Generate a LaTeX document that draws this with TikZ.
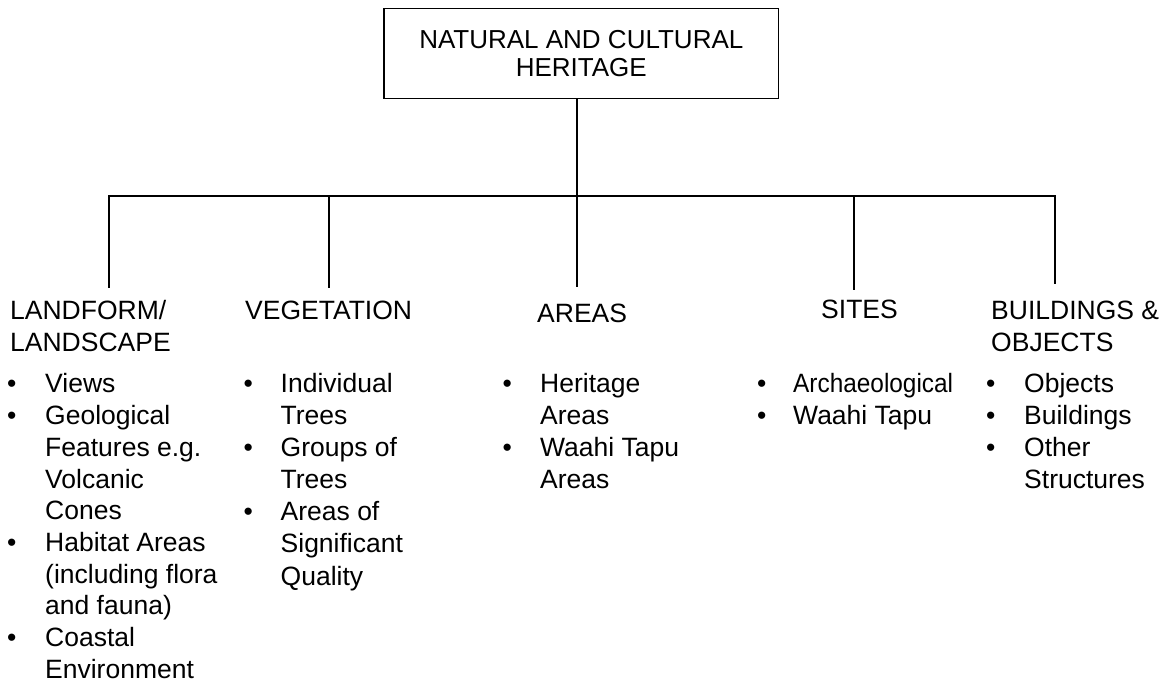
\documentclass[tikz,border=0pt]{standalone}
\usepackage{fontspec}
\setmainfont{Liberation Sans}
\usepackage{graphicx}
\begin{document}
\begin{tikzpicture}[x=1pt,y=-1pt,
  conn/.style={line width=1.6pt},
  head/.style={anchor=base west, inner sep=0pt, font=\fontsize{26.5}{32}\selectfont},
  lst/.style={anchor=base west, inner sep=0pt, font=\fontsize{26.5}{32}\selectfont},
  titlebox/.style={draw, line width=1.6pt, minimum width=394.5pt, minimum height=90pt,
    inner sep=0pt, align=center, font=\fontsize{26}{28.5}\selectfont}]
\useasboundingbox (0,0) rectangle (1170,684);

% title
\node[titlebox] (title) at (581.3,53.5) {NATURAL AND CULTURAL\\HERITAGE};

% headings
\node[head] (land) at (10,320) {\begin{tabular}[t]{@{}l@{}}LANDFORM/\\LANDSCAPE\end{tabular}};
\node[head] (veg) at (245,320) {VEGETATION};
\node[head] (areas) at (537,323) {AREAS};
\node[head] (sites) at (821,319) {SITES};
\node[head] (bldg) at (991,320) {\begin{tabular}[t]{@{}l@{}}BUILDINGS \&\\OBJECTS\end{tabular}};

% lists
\node[lst, font=\fontsize{26.5}{31.7}\selectfont] (landl) at (7,393) {\begin{tabular}[t]{@{}p{38pt}@{}l@{}}
\textbullet & Views\\
\textbullet & Geological\\
 & Features e.g.\\
 & Volcanic\\
 & Cones\\
\textbullet & Habitat Areas\\
 & (including flora\\
 & and fauna)\\
\textbullet & Coastal\\
 & Environment
\end{tabular}};
\node[lst] (vegl) at (243.5,393) {\begin{tabular}[t]{@{}p{37pt}@{}l@{}}
\textbullet & Individual\\
 & Trees\\
\textbullet & Groups of\\
 & Trees\\
\textbullet & Areas of\\
 & Significant\\
 & Quality
\end{tabular}};
\node[lst] (areasl) at (502.5,393) {\begin{tabular}[t]{@{}p{37.5pt}@{}l@{}}
\textbullet & Heritage\\
 & Areas\\
\textbullet & Waahi Tapu\\
 & Areas
\end{tabular}};
\node[lst] (sitesl) at (757,393) {\begin{tabular}[t]{@{}p{36pt}@{}l@{}}
\textbullet & \scalebox{0.92}[1]{Archaeological}\\
\textbullet & Waahi Tapu
\end{tabular}};
\node[lst] (bldgl) at (986,393) {\begin{tabular}[t]{@{}p{38pt}@{}l@{}}
\textbullet & Objects\\
\textbullet & Buildings\\
\textbullet & Other\\
 & Structures
\end{tabular}};

% connectors
\coordinate (hub) at (577,196);
\coordinate (j1) at (109,196);
\coordinate (j2) at (329,196);
\coordinate (j4) at (854,196);
\coordinate (j5) at (1055,196);
\coordinate (e1) at (109,288);
\coordinate (e2) at (329,288);
\coordinate (e3) at (577,287);
\coordinate (e4) at (854,290);
\coordinate (e5) at (1055,284);

\draw[conn] ([xshift=-4.3pt]title.south) -- (hub);
\draw[conn] (e1) -- (j1) -- (j5) -- (e5);
\draw[conn] (j2) -- (e2);
\draw[conn] (hub) -- (e3);
\draw[conn] (j4) -- (e4);
\end{tikzpicture}
\end{document}
